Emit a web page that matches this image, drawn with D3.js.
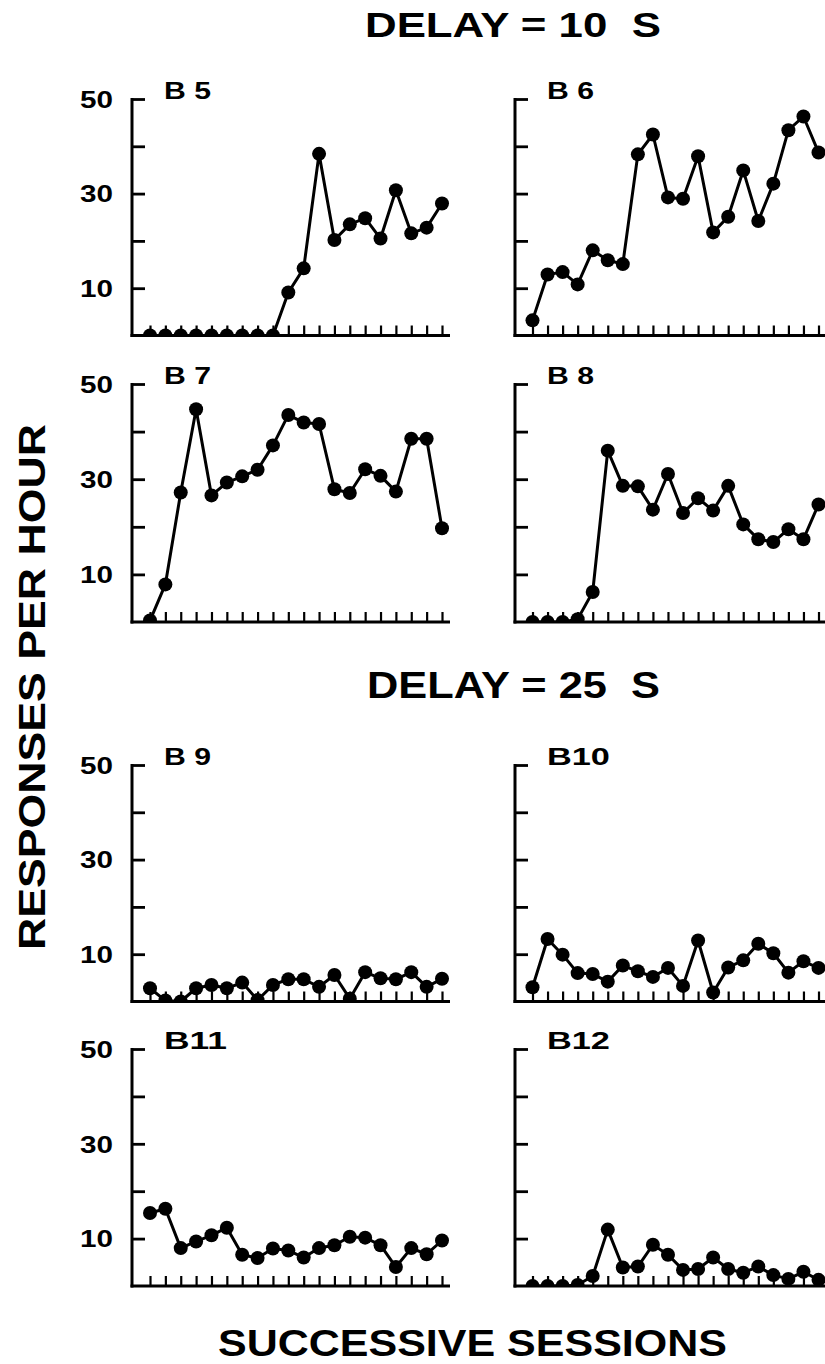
<!DOCTYPE html>
<html>
<head>
<meta charset="utf-8">
<script src="https://cdn.jsdelivr.net/npm/d3@7"></script>
<style>
  html, body { margin: 0; padding: 0; background: #fff; }
  svg { display: block; }
  text { font-family: "Liberation Sans", Arial, Helvetica, sans-serif; font-weight: bold; fill: #000; white-space: pre; }
</style>
</head>
<body>
<svg id="chart" width="825" height="1364"></svg>
<script>
// ---- data ----
const sessions = [1,2,3,4,5,6,7,8,9,10,11,12,13,14,15,16,17,18,19,20];
const yTickValues = [10, 20, 30, 40, 50];
const yTickLabels = [10, 30, 50];
const groupTitles = ["DELAY = 10  S", "DELAY = 25  S"];
const yTitle = "RESPONSES PER HOUR";
const xTitle = "SUCCESSIVE SESSIONS";
const panelLabels = ["B 5", "B 6", "B 7", "B 8", "B 9", "B10", "B11", "B12"];

const b5  = [0,0,0,0,0,0,0,0,0, 9.1,14.2,38.4,20.2,23.5,24.8,20.5,30.7,21.6,22.8,27.9];
const b6  = [3.2,12.9,13.4,10.8,18.0,15.9,15.1,38.3,42.5,29.2,28.9,37.9,21.8,25.1,34.9,24.2,32.1,43.4,46.3,38.7];
const b7  = [0.3,7.9,27.2,44.7,26.6,29.3,30.6,32.0,37.1,43.5,41.9,41.6,27.9,27.1,32.1,30.7,27.4,38.5,38.5,19.7];
const b8  = [0,0,0,0.6,6.3,36.0,28.6,28.5,23.6,31.1,22.9,26.0,23.4,28.6,20.5,17.4,16.8,19.5,17.4,24.7];
const b9  = [2.8,0.2,0,2.8,3.5,2.8,4.0,0.3,3.5,4.7,4.7,3.1,5.6,0.6,6.2,4.9,4.7,6.2,3.1,4.8];
const b10 = [3.0,13.2,9.9,6.0,5.8,4.2,7.6,6.4,5.2,7.1,3.3,12.9,1.9,7.2,8.7,12.2,10.2,6.1,8.5,7.1];
const b11 = [15.4,16.3,8.0,9.4,10.7,12.3,6.6,5.9,7.9,7.5,6.0,8.0,8.6,10.4,10.2,8.6,4.0,8.0,6.7,9.6];
const b12 = [0,0,0,0.2,2.1,11.9,3.9,4.1,8.7,6.6,3.4,3.6,6.0,3.6,2.8,4.1,2.3,1.5,3.0,1.3];
const panelSeries = [b5, b6, b7, b8, b9, b10, b11, b12];

// ---- layout ----
const cols = [
  { axis: 132, first: 150, last: 442, end: 450 },
  { axis: 515, first: 532.5, last: 818.5, end: 835 }
];
const rows = [
  { top: 99, zero: 335.5 },
  { top: 384, zero: 622 },
  { top: 765, zero: 1001.5 },
  { top: 1049, zero: 1286 }
];

const svg = d3.select("#chart");

// place text at (x,y) and stretch it horizontally to a target width (wide Helvetica look)
function fitText(parent, str, x, y, size, width, anchor, rotate) {
  const g = parent.append("g");
  const t = g.append("text").attr("font-size", size).attr("text-anchor", anchor || "start").text(str);
  const w = t.node().getComputedTextLength();
  const sx = width / w;
  g.attr("transform", `translate(${x},${y})` + (rotate ? ` rotate(${rotate})` : "") + ` scale(${sx},1)`);
  return g;
}

panelSeries.forEach((vals, i) => {
  const c = cols[i % 2], r = rows[Math.floor(i / 2)];
  const x = d3.scaleLinear().domain([1, 20]).range([c.first, c.last]);
  const y = d3.scaleLinear().domain([0, 50]).range([r.zero, r.top]);
  const g = svg.append("g");

  // y axis (ticks pointing inward)
  const yAxis = d3.axisLeft(y)
    .tickValues(yTickValues)
    .tickSizeInner(-13)
    .tickSizeOuter(0)
    .tickPadding(19)
    .tickFormat(d => (i % 2 === 0 && yTickLabels.includes(d)) ? String(d) : "");
  const ya = g.append("g").attr("transform", `translate(${c.axis},0)`).call(yAxis);
  ya.select(".domain").attr("stroke", "#000").attr("stroke-width", 3)
    .attr("d", `M0,${r.zero + 1.5}V${r.top - 1}`);
  ya.selectAll(".tick line").attr("stroke", "#000").attr("stroke-width", 2.8);
  ya.selectAll(".tick text")
    .attr("font-size", 23)
    .attr("font-family", "Liberation Sans, Arial, sans-serif")
    .attr("font-weight", "bold")
    .attr("fill", "#000")
    .attr("dy", "0.36em")
    .each(function () {
      const t = d3.select(this);
      if (t.text() === "") return;
      const w = this.getComputedTextLength();
      const sx = 33 / w;
      t.attr("x", 0).attr("transform", `translate(-19,0) scale(${sx},1)`);
    });

  // x axis (ticks pointing up)
  const xAxis = d3.axisBottom(x).tickValues(sessions).tickSizeInner(-10).tickSizeOuter(0).tickFormat("");
  const xa = g.append("g").attr("transform", `translate(0,${r.zero})`).call(xAxis);
  xa.select(".domain").remove();
  xa.selectAll(".tick line").attr("stroke", "#000").attr("stroke-width", 2.2);
  g.append("line")
    .attr("x1", c.axis - 1.5).attr("x2", c.end)
    .attr("y1", r.zero).attr("y2", r.zero)
    .attr("stroke", "#000").attr("stroke-width", 3.2);

  // clip so markers on the zero line show only above the axis
  const clipId = "clip" + i;
  svg.append("clipPath").attr("id", clipId)
    .append("rect")
    .attr("x", c.axis).attr("y", r.top - 30)
    .attr("width", c.end - c.axis + 20).attr("height", r.zero - r.top + 31);

  const pts = sessions.map((s, k) => [s, vals[k]]);
  const plot = g.append("g").attr("clip-path", `url(#${clipId})`);
  plot.append("path")
    .datum(pts)
    .attr("fill", "none")
    .attr("stroke", "#000")
    .attr("stroke-width", 3)
    .attr("stroke-linejoin", "round")
    .attr("d", d3.line().x(d => x(d[0])).y(d => y(d[1])));
  plot.selectAll("circle")
    .data(pts)
    .join("circle")
    .attr("cx", d => x(d[0]))
    .attr("cy", d => y(d[1]))
    .attr("r", 7)
    .attr("fill", "#000");

  // panel label
  const lab = panelLabels[i];
  const twoDigit = lab.replace(/\s/g, "").length === 3;
  fitText(g, lab, c.axis + 32, r.top, 24, twoDigit ? 63 : 47, "start");
});

// group titles
fitText(svg, groupTitles[0], 365, 37, 35, 296, "start");
fitText(svg, groupTitles[1], 367, 698, 36, 293, "start");

// axis titles
fitText(svg, xTitle, 218, 1356, 37, 509, "start");
fitText(svg, yTitle, 45, 950, 37, 526, "start", -90);
</script>
</body>
</html>
